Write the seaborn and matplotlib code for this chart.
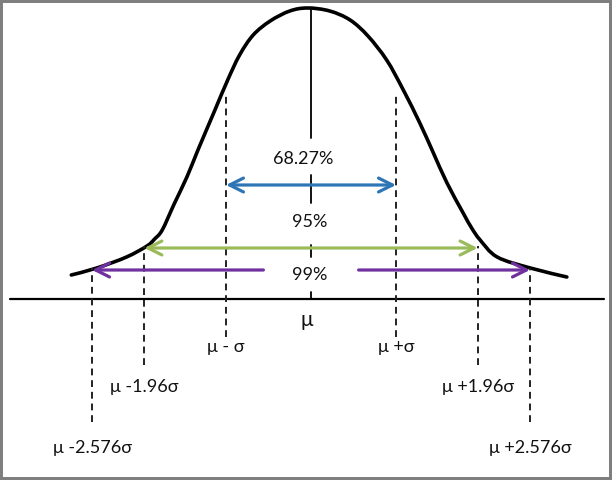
import matplotlib
matplotlib.use("Agg")
import matplotlib.pyplot as plt
from matplotlib.path import Path
from matplotlib.patches import PathPatch
import seaborn as sns
import pandas as pd

# ---------------- data ----------------
# hand-drawn bell curve: position in sigma units, height above the axis
curve_z = [-2.82, -2.52, -2.17, -1.93, -1.84, -1.75, -1.61, -1.46, -1.33, -1.14,
           -0.98, -0.84, -0.68, -0.48, -0.25, -0.04, 0.22, 0.46, 0.67, 0.89,
           1.08, 1.28, 1.44, 1.60, 1.79, 1.89, 1.99, 2.19, 2.58, 3.01]
curve_h = [24, 31, 42, 53, 60, 69, 95, 122, 149, 187,
           219, 244, 264, 278, 288, 291, 288, 279, 263, 239,
           210, 176, 146, 116, 86, 71, 59, 42, 31, 22]

# interval multipliers (in sigma), coverage labels and colours
interval_k = [1.0, 1.96, 2.576]
coverage = ["68.27%", "95%", "99%"]
interval_colors = ["#2E75B6", "#9BBB59", "#7030A0"]

# tick labels below the axis
mean_label = "μ"
left_labels = ["μ - σ", "μ -1.96σ", "μ -2.576σ"]
right_labels = ["μ +σ", "μ +1.96σ", "μ +2.576σ"]

# ---------------- layout ----------------
CX, SIG = 311.0, 85.0          # pixel centre and pixel size of one sigma
W, H = 612, 480
BASE = 299                     # pixel row of the axis line
TXT = "#111111"

sns.set_theme(style="white")
plt.rcParams["font.family"] = ["Lato", "DejaVu Sans"]

fig = plt.figure(figsize=(W / 100, H / 100), dpi=100)
fig.patch.set_facecolor("white")
fig.patch.set_edgecolor("#7f7f7f")
fig.patch.set_linewidth(3)
ax = fig.add_axes([0, 0, 1, 1])
ax.set_xlim(-CX / SIG, (W - CX) / SIG)
ax.set_ylim(BASE - H, BASE)
ax.axis("off")

# curve: smooth path (Catmull-Rom as cubic Bezier) through the read points
pts = list(zip(curve_z, curve_h))
verts = [pts[0]]
codes = [Path.MOVETO]
n = len(pts)
for i in range(n - 1):
    p0 = pts[i - 1] if i > 0 else pts[i]
    p1 = pts[i]
    p2 = pts[i + 1]
    p3 = pts[i + 2] if i + 2 < n else pts[i + 1]
    c1 = (p1[0] + (p2[0] - p0[0]) / 6, p1[1] + (p2[1] - p0[1]) / 6)
    c2 = (p2[0] - (p3[0] - p1[0]) / 6, p2[1] - (p3[1] - p1[1]) / 6)
    verts += [c1, c2, p2]
    codes += [Path.CURVE4] * 3
ax.add_patch(PathPatch(Path(verts, codes), facecolor="none", edgecolor="black",
                       lw=2.6, capstyle="round", joinstyle="round"))

# axis line
base_df = pd.DataFrame({"z": [(10 - CX) / SIG, (604 - CX) / SIG], "h": [0, 0]})
sns.lineplot(data=base_df, x="z", y="h", ax=ax, color="black", lw=1.6)

# mean line (broken around the coverage labels)
for top, bot in [(291, 161), (124, 96), (54, 42), (7, 0)]:
    ax.plot([0, 0], [bot, top], color="black", lw=1.3)

# dashed sigma lines
dash = (0, (3.5, 2.5))
tops = [206, 53, 31]
bots = [-38, -66, -123]
for k, t, b in zip(interval_k, tops, bots):
    for s in (-1, 1):
        ax.plot([s * k, s * k], [b, t], color="#222222", lw=1.4, linestyle=dash)

# arrows
arrow_h = [114, 51, 29]
label_h = [140, 77, 24]
label_dx = [-0.09, -0.01, -0.01]
astyle = "<->,head_length=1.0,head_width=0.5"
hstyle = "->,head_length=1.0,head_width=0.5"
for i, (k, c, ah) in enumerate(zip(interval_k, interval_colors, arrow_h)):
    if i < 2:
        ax.annotate("", xy=(k, ah), xytext=(-k, ah),
                    arrowprops=dict(arrowstyle=astyle, color=c, lw=2.3,
                                    shrinkA=0, shrinkB=0, mutation_scale=10))
    else:
        gap = 0.56
        for s in (-1, 1):
            ax.annotate("", xy=(s * k, ah), xytext=(s * gap, ah),
                        arrowprops=dict(arrowstyle=hstyle, color=c, lw=2.3,
                                        shrinkA=0, shrinkB=0, mutation_scale=10))

# coverage labels
for txt, lh, dx in zip(coverage, label_h, label_dx):
    ax.text(dx, lh, txt, ha="center", va="center", fontsize=13, color=TXT)

# tick labels
ax.text(-0.05, -21, mean_label, ha="center", va="center", fontsize=15, color=TXT)
lab_h = [-48, -88, -149]
for k, lt, rt, lh in zip(interval_k, left_labels, right_labels, lab_h):
    ax.text(-k, lh, lt, ha="center", va="center", fontsize=13, color=TXT)
    ax.text(k, lh, rt, ha="center", va="center", fontsize=13, color=TXT)

fig.savefig("out.png", dpi=100, facecolor=fig.get_facecolor(),
            edgecolor=fig.get_edgecolor())
